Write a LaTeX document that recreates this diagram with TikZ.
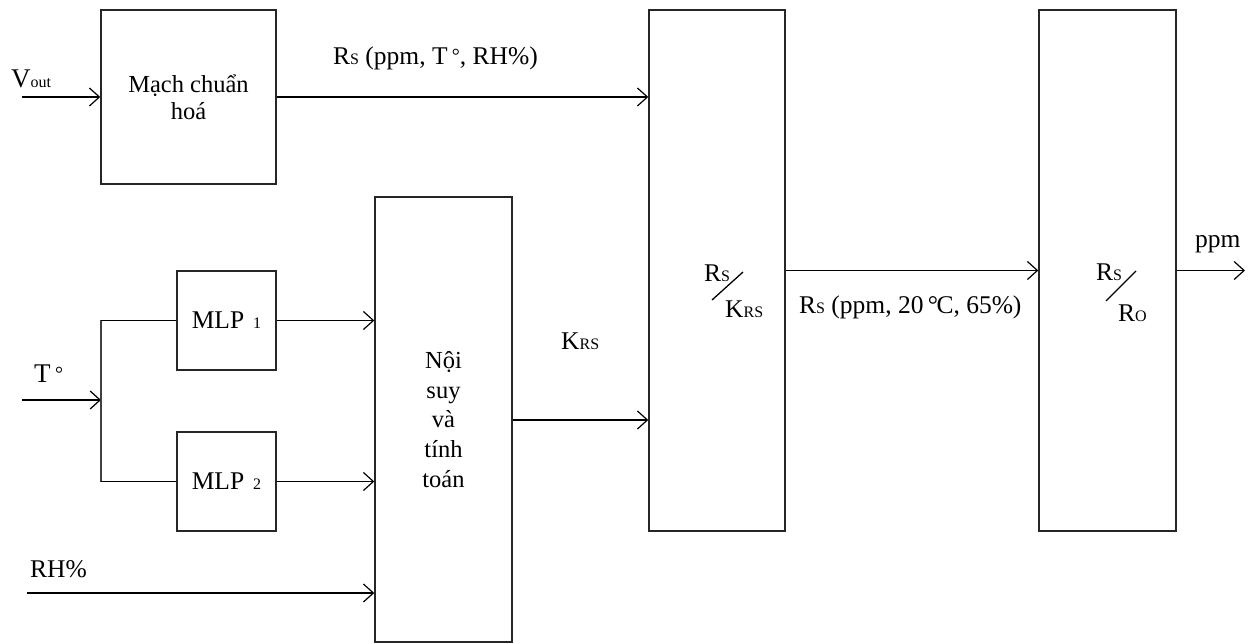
\documentclass[tikz,border=0pt]{standalone}
\usepackage{fontspec}
\setmainfont{Liberation Serif}
\usetikzlibrary{arrows.meta}
\newcommand\sm[1]{{\fontsize{16}{16}\selectfont #1}}
\newcommand\dg{{\fontsize{20}{20}\selectfont\raisebox{2pt}{°}}}
\begin{document}
\begin{tikzpicture}[x=1pt,y=-1pt,
  font=\fontsize{25.5}{29}\selectfont,
  block/.style={draw=black!85, line width=1.4pt, inner sep=0pt},
  wire/.style={line width=1.5pt},
  arr/.style={wire, -{Straight Barb[length=10pt,width=18pt,line width=1.2pt]}},
  lbl/.style={anchor=base west, inner sep=0pt}]
\useasboundingbox (0,0) rectangle (1259,644);

% blocks
\node[block, minimum width=175pt, minimum height=174pt, align=center,
      font=\fontsize{24.5}{27}\selectfont] (norm) at (188.5,97) {Mạch chuẩn\\hoá};
\node[block, minimum width=99pt, minimum height=99pt] (mlpa) at (226.5,320.5) {MLP\hspace{9pt}\sm{1}};
\node[block, minimum width=99pt, minimum height=99pt] (mlpb) at (226.5,481.5) {MLP\hspace{9pt}\sm{2}};
\node[block, minimum width=137pt, minimum height=445pt, align=center,
      font=\fontsize{24.5}{29.7}\selectfont] (interp) at (443.5,419.5) {Nội\\suy\\và\\tính\\toán};
\node[block, minimum width=136pt, minimum height=521pt] (comp) at (717,270.5) {};
\node[block, minimum width=137pt, minimum height=521pt] (ratio) at (1107.5,270.5) {};

% fractions inside the two tall blocks
\node[lbl] (ca) at (704,282) {R\sm{S}};
\node[lbl] (cb) at (725,318) {K\sm{RS}};
\draw[line width=1.3pt] (712,300) -- (743,272);
\node[lbl] (ra) at (1096,281) {R\sm{S}};
\node[lbl] (rb) at (1118,322) {R\sm{O}};
\draw[line width=1.3pt] (1106,301) -- (1136,271);

% free ends of the input and output wires
\coordinate (vin) at (22,97);
\coordinate (tin) at (22,400);
\coordinate (tj) at (101,400);
\coordinate (rhin) at (27,593);
\coordinate (pout) at (1245,270.5);

% connectors
\draw[arr] (vin) -- (norm.west);
\draw[arr] (norm.east) -- (norm.east -| comp.west);
\draw[arr] (tin) -- (tj);
\draw[wire, black!75] (mlpa.west -| tj) -- (mlpb.west -| tj);
\draw[wire] (mlpa.west -| tj) -- (mlpa.west);
\draw[wire] (mlpb.west -| tj) -- (mlpb.west);
\draw[arr] (mlpa.east) -- (mlpa.east -| interp.west);
\draw[arr] (mlpb.east) -- (mlpb.east -| interp.west);
\draw[arr] (rhin) -- (rhin -| interp.west);
\draw[arr] (interp.east |- 0,420) -- (comp.west |- 0,420);
\draw[arr] (comp.east) -- (ratio.west);
\draw[arr] (ratio.east) -- (pout);

% signal labels
\node[lbl, font=\fontsize{27}{29}\selectfont] (lv) at (11,88) {V\sm{out}};
\node[lbl] (lrs) at (333,65) {R\sm{S} (ppm, T\,\dg, RH\%)};
\node[lbl, font=\fontsize{27}{29}\selectfont] (lt) at (34,383) {T\,\dg};
\node[lbl] (lrh) at (30,577) {RH\%};
\node[lbl] (lk) at (561,350) {K\sm{RS}};
\node[lbl] (lrs2) at (799,314) {R\sm{S} (ppm, 20\,°\kern-1.5ptC, 65\%)};
\node[lbl] (lp) at (1195,248) {ppm};
\end{tikzpicture}
\end{document}
